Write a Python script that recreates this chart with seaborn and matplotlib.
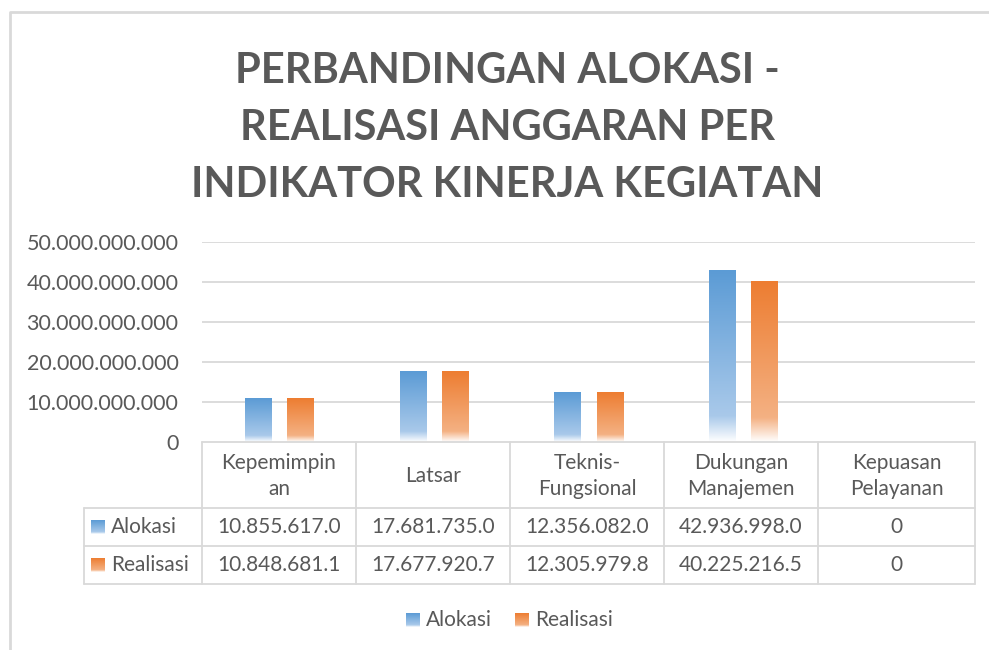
import numpy as np
import pandas as pd
import matplotlib
matplotlib.use("Agg")
import matplotlib.pyplot as plt
from matplotlib.colors import LinearSegmentedColormap
import seaborn as sns

categories = ["Kepemimpinan", "Latsar", "Teknis-Fungsional", "Dukungan Manajemen", "Kepuasan Pelayanan"]
cat_labels = ["Kepemimpin\nan", "Latsar", "Teknis-\nFungsional", "Dukungan\nManajemen", "Kepuasan\nPelayanan"]
series = ["Alokasi", "Realisasi"]
alokasi = [10855617000, 17681735000, 12356082000, 42936998000, 0]
realisasi = [10848681100, 17677920700, 12305979800, 40225216500, 0]
yticks = [0, 10e9, 20e9, 30e9, 40e9, 50e9]
title = "PERBANDINGAN ALOKASI -\nREALISASI ANGGARAN PER\nINDIKATOR KINERJA KEGIATAN"

colors = {"Alokasi": "#5B9BD5", "Realisasi": "#ED7D31"}
light = {"Alokasi": "#A9C9EA", "Realisasi": "#F4B183"}

df = pd.DataFrame({
    "cat": categories * 2,
    "series": ["Alokasi"] * 5 + ["Realisasi"] * 5,
    "value": alokasi + realisasi,
})

sns.set_theme(style="white")
FONT = ["Lato", "DejaVu Sans"]
plt.rcParams["font.family"] = FONT
TXT = "#595959"
GRID = "#D9D9D9"

W, H = 989, 650
fig = plt.figure(figsize=(W / 100, H / 100), dpi=100)

L, R, T, B = 202, 975, 242, 442
ax = fig.add_axes([L / W, 1 - B / H, (R - L) / W, (B - T) / H])
sns.barplot(data=df, x="cat", y="value", hue="series", order=categories,
            hue_order=series, palette=colors, width=0.546, gap=0.38,
            ax=ax, legend=False, saturation=1)
ax.set_xlim(-0.5, 4.5)
ax.set_ylim(0, 50e9)
ax.set_yticks(yticks)
ax.set_yticklabels([f"{int(v):,}".replace(",", ".") for v in yticks],
                   fontsize=15.5, color=TXT)
ax.tick_params(axis="y", length=0, pad=17)
ax.set_xticks([])
ax.set_xlabel("")
ax.set_ylabel("")
for s in ax.spines.values():
    s.set_visible(False)
for y in yticks[1:]:
    ax.axhline(y, color=GRID, lw=1.3, zorder=0)

# gradient fill on bars
def grad_cmap(c, lc):
    return LinearSegmentedColormap.from_list("g", [(0, "#FFFFFF"), (0.15, lc), (1.0, c)])

cmaps = {s: grad_cmap(colors[s], light[s]) for s in series}
grad = np.linspace(0, 1, 256).reshape(-1, 1)
patches = list(ax.patches)
for i, p in enumerate(patches):
    s = series[i // len(categories)]
    x0, w, h = p.get_x(), p.get_width(), p.get_height()
    p.set_visible(False)
    if h <= 0:
        continue
    ax.imshow(grad, extent=[x0, x0 + w, 0, h], origin="lower", aspect="auto",
              cmap=cmaps[s], zorder=2)
ax.set_xlim(-0.5, 4.5)
ax.set_ylim(0, 50e9)

# overlay in pixel coordinates for title, table, legend, frame
ov = fig.add_axes([0, 0, 1, 1], facecolor="none")
ov.set_xlim(0, W)
ov.set_ylim(H, 0)
ov.axis("off")

ov.plot([10, 10, W + 5], [H + 5, 12, 12], color=GRID, lw=2)

ov.text(507, 128, title, ha="center", va="center", fontsize=30,
        fontweight="bold", color=TXT, linespacing=1.6)

# table
cols = [202, 356, 510, 664, 818, 975]
rows = [442, 508, 546, 584]
lw = 1.3
ov.plot([L, R], [442, 442], color=GRID, lw=lw)
for y in rows[1:]:
    ov.plot([84, R], [y, y], color=GRID, lw=lw)
ov.plot([84, 84], [508, 584], color=GRID, lw=lw)
for x in cols:
    ov.plot([x, x], [442, 584], color=GRID, lw=lw)

def fmt(v):
    if v == 0:
        return "0"
    return f"{int(v):,}".replace(",", ".")[:12]

for j, lab in enumerate(cat_labels):
    cx = (cols[j] + cols[j + 1]) / 2
    ov.text(cx, 476, lab, ha="center", va="center", fontsize=15, color=TXT,
            linespacing=1.35)
for r, (s, vals) in enumerate([("Alokasi", alokasi), ("Realisasi", realisasi)]):
    cy = (rows[r + 1] + rows[r + 2]) / 2
    for j, v in enumerate(vals):
        cx = (cols[j] + cols[j + 1]) / 2
        ov.text(cx, cy, fmt(v), ha="center", va="center", fontsize=15, color=TXT)
    ov.imshow(grad, extent=[91, 105, cy + 7, cy - 7], origin="upper", aspect="auto",
              cmap=grad_cmap(colors[s], light[s]).reversed(), zorder=3)
    ov.text(111, cy, s, ha="left", va="center", fontsize=15, color=TXT)

# legend
for xs, s in [(406, "Alokasi"), (515, "Realisasi")]:
    ov.imshow(grad, extent=[xs, xs + 14, 627, 613], origin="upper", aspect="auto",
              cmap=grad_cmap(colors[s], light[s]).reversed(), zorder=3)
    ov.text(xs + 20, 620, s, ha="left", va="center", fontsize=15, color=TXT)
ov.set_xlim(0, W)
ov.set_ylim(H, 0)

fig.savefig("out.png", dpi=100, facecolor="white")
